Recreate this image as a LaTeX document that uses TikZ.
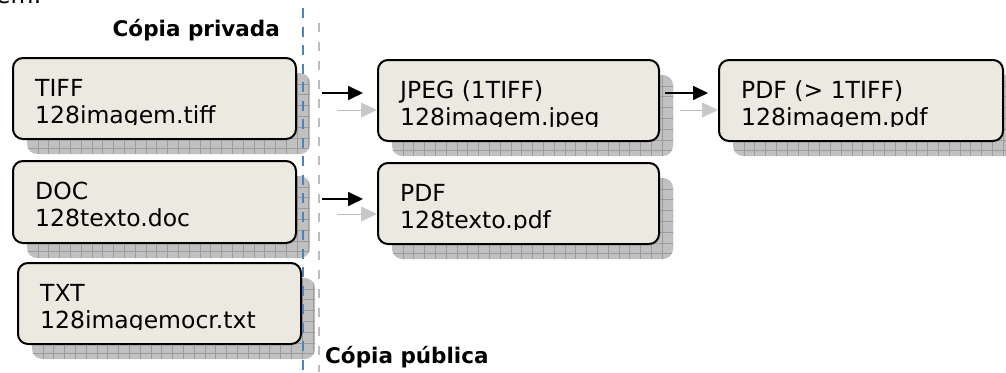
\documentclass[tikz,border=0pt]{standalone}
\usepackage{fontspec}
\setmainfont{DejaVu Sans}
\usetikzlibrary{arrows.meta}
\definecolor{boxfill}{RGB}{236,234,224}
\definecolor{shfill}{RGB}{192,192,192}
\definecolor{shline}{RGB}{155,155,155}
\definecolor{divblue}{RGB}{79,129,189}
\definecolor{divgray}{RGB}{190,190,190}
\definecolor{arrgray}{RGB}{185,185,185}
\definecolor{tipgray}{RGB}{200,200,200}
\tikzset{
  filebox/.style={draw=black, line width=2pt, fill=boxfill, rounded corners=10pt, inner sep=0pt},
  shadowfill/.style={fill=shfill, rounded corners=10pt},
  shadowline/.style={draw=shline, line width=0.6pt},
  ftext/.style={anchor=base west, inner sep=0pt, font=\fontsize{23.5}{23.5}\selectfont, text=black},
  lbl/.style={inner sep=0pt, font=\fontsize{21.5}{21.5}\selectfont\bfseries},
  arr/.style={draw=black, line width=1.8pt, -{Triangle[length=15pt,width=14pt]}},
  sharr/.style={draw=arrgray, line width=1pt, -{Triangle[length=16pt,width=15pt,color=tipgray]}},
  bluediv/.style={draw=divblue, line width=2.5pt, dash pattern=on 10pt off 8.5pt},
  graydiv/.style={draw=divgray, line width=2pt, dash pattern=on 9pt off 10pt}
}
% name, x, y, w, h, line1, line2
\newcommand\mkfilebox[7]{%
  \fill[shadowfill] (#2+15,#3+16) rectangle (#2+15+#4,#3+16+#5);
  \begin{scope}
    \clip[rounded corners=10pt] (#2+15,#3+16) rectangle (#2+15+#4,#3+16+#5);
    \foreach \k in {1,...,30} {\draw[shadowline] (#2+15+\k*10.8,#3+16) -- ++(0,#5);}
    \foreach \k in {1,...,8} {\draw[shadowline] (#2+15,#3+16+\k*10.8) -- ++(#4,0);}
  \end{scope}
  \node[filebox, minimum width=#4, minimum height=#5, anchor=north west] (#1) at (#2,#3) {};
  \begin{scope}
    \clip (#2,#3) rectangle (#2+#4,#3+67);
    \node[ftext] (#1-a) at (#2+23,#3+39) {#6};
    \node[ftext] (#1-b) at (#2+23,#3+66) {#7};
  \end{scope}
}
\begin{document}
\begin{tikzpicture}[x=1pt,y=-1pt]
\useasboundingbox (0,0) rectangle (1006,372);
\node[ftext] (prev) at (-4,4) {em:};
\mkfilebox{tiff}{12}{57}{283}{81}{TIFF}{128imagem.tiff}
\mkfilebox{doc}{12}{160}{283}{82}{DOC}{128texto.doc}
\mkfilebox{txt}{17}{262}{283}{81}{TXT}{128imagemocr.txt}
\mkfilebox{jpeg}{377}{59}{281}{81}{JPEG (1TIFF)}{128imagem.jpeg}
\mkfilebox{pdfa}{718}{59}{284}{81}{PDF (> 1TIFF)}{128imagem.pdf}
\mkfilebox{pdfb}{377}{162}{281}{81}{PDF}{128texto.pdf}
% divider lines
\coordinate (bt) at (303,8);
\coordinate (bb) at (303,372);
\coordinate (gt) at (319,23);
\coordinate (gb) at (319,372);
\draw[bluediv] (bt) -- (bb);
\draw[graydiv] (gt) -- (gb);
% labels
\node[lbl, anchor=base east] (priv) at (280,36) {Cópia privada};
\node[lbl, anchor=base west] (pub) at (325,363) {Cópia pública};
% shadow arrows
\draw[sharr] ([xshift=40pt,yshift=-11.5pt]tiff.east) -- ([yshift=-9.5pt]jpeg.west);
\draw[sharr] ([xshift=20pt,yshift=-9.5pt]jpeg.east) -- ([yshift=-9.5pt]pdfa.west);
\draw[sharr] ([xshift=40pt,yshift=-12pt]doc.east) -- ([yshift=-10.5pt]pdfb.west);
% arrows
\draw[arr] ([xshift=25pt,yshift=5.5pt]tiff.east) -- ([xshift=-14pt,yshift=7.5pt]jpeg.west);
\draw[arr] ([xshift=5pt,yshift=7.5pt]jpeg.east) -- ([xshift=-10pt,yshift=7.5pt]pdfa.west);
\draw[arr] ([xshift=25pt,yshift=3pt]doc.east) -- ([xshift=-14pt,yshift=4.5pt]pdfb.west);
\end{tikzpicture}
\end{document}
